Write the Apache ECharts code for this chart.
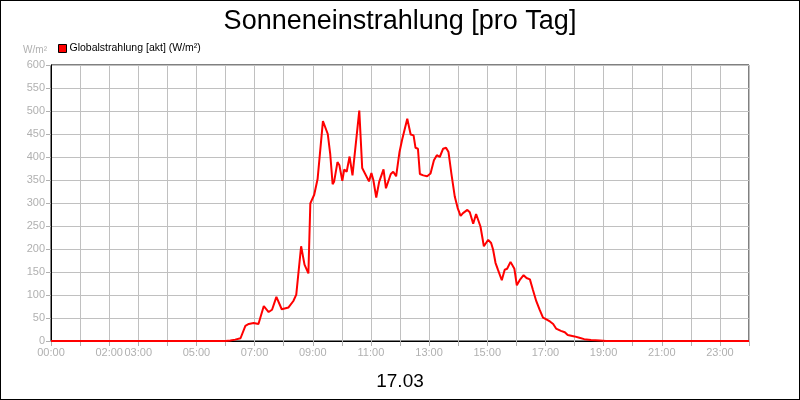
<!DOCTYPE html>
<html>
<head>
<meta charset="utf-8">
<script src="https://cdn.jsdelivr.net/npm/echarts@6/dist/echarts.min.js"></script>
<style>
html,body{margin:0;padding:0;background:#fff;}
#c{width:800px;height:400px;box-sizing:border-box;border:1px solid #000;}
</style>
</head>
<body>
<div id="c"></div>
<script>
// Time of day (HH:MM) and global radiation values (W/m²)
var times = ["00:00","06:00","06:10","06:20","06:31","06:41","06:48","06:58","07:08","07:19","07:29","07:36","07:45","07:56","08:10","08:20","08:26","08:36","08:43","08:47","08:51","08:55","09:03","09:10","09:21","09:31","09:36","09:41","09:44","09:51","09:55","10:01","10:05","10:10","10:16","10:22","10:26","10:36","10:42","10:46","10:56","11:01","11:05","11:11","11:17","11:26","11:31","11:35","11:41","11:46","11:52","11:59","12:04","12:08","12:15","12:22","12:28","12:32","12:37","12:41","12:48","12:56","13:03","13:10","13:16","13:22","13:29","13:35","13:40","13:46","13:53","13:59","14:05","14:10","14:19","14:24","14:31","14:37","14:41","14:46","14:53","15:02","15:08","15:12","15:17","15:22","15:30","15:36","15:41","15:48","15:52","15:56","16:01","16:08","16:15","16:21","16:28","16:34","16:41","16:48","16:55","17:02","17:10","17:16","17:22","17:32","17:40","17:46","18:00","18:10","18:20","18:34","18:52","19:05","24:00"];
var values = [0,0,1,3,6,33,37,39,37,76,63,68,96,69,73,87,101,206,166,170,147,299,318,352,478,450,407,341,346,389,382,348,373,368,401,360,360,501,376,378,347,365,350,312,346,373,332,330,363,368,358,411,436,440,483,449,447,420,418,363,360,358,364,393,404,400,418,420,411,364,314,289,272,278,285,280,255,276,278,249,206,220,213,199,170,155,132,155,157,172,172,157,121,134,143,137,134,112,87,68,51,47,42,37,27,22,19,13,10,7,4,2,1,0,0];
var xTickLabels = ["00:00","02:00","03:00","05:00","07:00","09:00","11:00","13:00","15:00","17:00","19:00","21:00","23:00"];
var seriesName = "Globalstrahlung [akt] (W/m²)";
var titleText = "Sonneneinstrahlung [pro Tag]";
var dateText = "17.03";

function toHours(t){ var p = t.split(":"); return (+p[0]) + (+p[1])/60; }
var data = times.map(function(t,i){ return [toHours(t), values[i]]; });
function pad(n){ return (n<10?"0":"")+n; }

var chart = echarts.init(document.getElementById('c'), null, {renderer:'canvas'});
var FONT = 'Liberation Sans, Arial, sans-serif';
chart.setOption({
  animation:false,
  textStyle:{fontFamily:FONT},
  title:[
    {text:titleText, left:'center', top:2, textStyle:{fontSize:27, fontWeight:'normal', color:'#000', fontFamily:FONT}},
    {text:dateText, left:'center', top:366, textStyle:{fontSize:19, fontWeight:'normal', color:'#000', fontFamily:FONT}}
  ],
  legend:{
    left:52, top:37, itemWidth:8, itemHeight:8, icon:'rect', itemGap:4,
    textStyle:{fontSize:10.5, color:'#000', fontFamily:FONT, padding:[0,0,0,-2]},
    itemStyle:{borderColor:'#000', borderWidth:1},
    data:[seriesName]
  },
  grid:{left:50, right:50, top:64, bottom:58, show:true, borderColor:'#000', borderWidth:1},
  xAxis:{
    type:'value', min:0, max:24, interval:1,
    axisLine:{show:true, onZero:false, lineStyle:{color:'#000'}},
    axisTick:{show:true, length:5, lineStyle:{color:'#b0b0b0'}},
    axisLabel:{
      fontSize:11, color:'#b0b0b0', margin:6, fontFamily:FONT,
      formatter:function(v){ var s = pad(Math.round(v))+":00"; return xTickLabels.indexOf(s)>=0 ? s : ''; }
    },
    splitLine:{show:true, lineStyle:{color:'#c0c0c0', width:1}}
  },
  yAxis:{
    type:'value', min:0, max:600, interval:50,
    name:'W/m²', nameLocation:'end', nameGap:10,
    nameTextStyle:{fontSize:10, color:'#b0b0b0', align:'right', padding:[0,4,0,0], fontFamily:FONT},
    axisLine:{show:true, lineStyle:{color:'#000'}},
    axisTick:{show:true, length:5, lineStyle:{color:'#b0b0b0'}},
    axisLabel:{fontSize:11, color:'#b0b0b0', margin:6, fontFamily:FONT},
    splitLine:{show:true, lineStyle:{color:'#c0c0c0', width:1}}
  },
  series:[{
    name:seriesName, type:'line', data:data, showSymbol:false, symbol:'none',
    lineStyle:{color:'#ff0000', width:2}, itemStyle:{color:'#ff0000'}
  }]
});
</script>
</body>
</html>
